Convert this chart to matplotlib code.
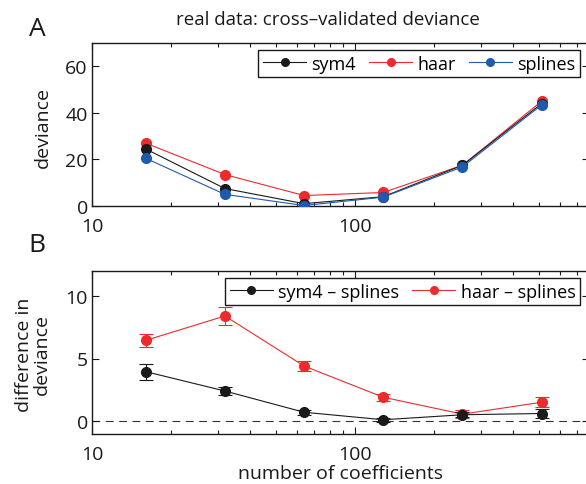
import matplotlib
matplotlib.use("Agg")
import matplotlib.pyplot as plt
from matplotlib.ticker import LogLocator, NullFormatter, FixedLocator, FixedFormatter
from matplotlib.lines import Line2D

plt.rcParams['font.family'] = ['Open Sans', 'DejaVu Sans']

n_coef = [16, 32, 64, 128, 256, 512]
sym4 = [24.5, 7.5, 1.0, 4.0, 17.5, 44.0]
haar = [27.0, 13.5, 4.5, 5.8, 17.5, 45.0]
splines = [20.5, 5.0, 0.2, 3.8, 16.8, 43.4]

sym4_diff = [3.95, 2.4, 0.7, 0.1, 0.5, 0.6]
sym4_err = [0.65, 0.35, 0.2, 0.15, 0.2, 0.35]
haar_diff = [6.45, 8.4, 4.4, 1.9, 0.55, 1.5]
haar_err = [0.5, 0.7, 0.4, 0.3, 0.3, 0.4]

BLACK = '#1a1a1a'
RED = '#ee2a2e'
BLUE = '#1f5aad'
FS = 14
LFS = 13

W, H = 586, 485
fig = plt.figure(figsize=(W/100, H/100), dpi=100)

def px_axes(l, t, r, b):
    return fig.add_axes([l/W, 1-b/H, (r-l)/W, (b-t)/H])

axA = px_axes(92, 44, 589, 207)
axB = px_axes(92, 272, 589, 434.5)

ms = 7
lw = 0.8
axA.plot(n_coef, sym4, '-o', color=BLACK, lw=lw, ms=ms, zorder=3)
axA.plot(n_coef, haar, '-o', color=RED, lw=lw, ms=ms, zorder=2)
axA.plot(n_coef, splines, '-o', color=BLUE, lw=lw, ms=ms, zorder=4)

axB.axhline(0, color='#333333', lw=0.8, ls=(0, (7, 5)), zorder=1)
axB.errorbar(n_coef, sym4_diff, yerr=sym4_err, fmt='-o', color=BLACK, lw=lw,
             ms=ms, capsize=5, elinewidth=0.8, capthick=0.8, zorder=3)
axB.errorbar(n_coef, haar_diff, yerr=haar_err, fmt='-o', color=RED, lw=lw,
             ms=ms, capsize=5, elinewidth=0.8, capthick=0.8, zorder=2)

lms = 5.5
handlesA = [Line2D([], [], color=c, lw=lw, marker='o', ms=lms) for c in (BLACK, RED, BLUE)]
labelsA = ['sym4', 'haar', 'splines']
handlesB = [Line2D([], [], color=c, lw=lw, marker='o', ms=lms) for c in (BLACK, RED)]
labelsB = ['sym4 – splines', 'haar – splines']

for ax in (axA, axB):
    ax.set_xscale('log')
    ax.set_xlim(10, 775)
    ax.xaxis.set_major_locator(FixedLocator([10, 100]))
    ax.xaxis.set_major_formatter(FixedFormatter(['10', '100']))
    ax.xaxis.set_minor_locator(LogLocator(base=10, subs=range(2, 10)))
    ax.xaxis.set_minor_formatter(NullFormatter())
    ax.tick_params(which='both', direction='in', top=True, right=True,
                   labelsize=FS, colors=BLACK, width=0.8)
    ax.tick_params(which='major', length=5)
    ax.tick_params(axis='x', which='major', pad=8)
    ax.tick_params(axis='y', which='major', pad=3)
    ax.tick_params(which='minor', length=3)
    for s in ax.spines.values():
        s.set_linewidth(1.0)
        s.set_color(BLACK)

axA.set_ylim(0, 70)
axA.set_yticks([0, 20, 40, 60])
axB.set_ylim(-1, 12)
axB.set_yticks([0, 5, 10])

axB.set_xlabel('number of coefficients', fontsize=FS, color=BLACK, labelpad=1)

fig.text(43/W, 1-128/H, 'deviance', fontsize=FS, rotation=90,
         ha='center', va='center', color=BLACK)
fig.text(33/W, 1-355/H, 'difference in\ndeviance', fontsize=FS, rotation=90,
         ha='center', va='center', color=BLACK, linespacing=1.05, multialignment='center')

fig.text(328/W, 1-20/H, 'real data: cross–validated deviance', fontsize=13.5,
         ha='center', va='center', color=BLACK)
fig.text(37/W, 1-30/H, 'A', fontsize=19, ha='center', va='center', color=BLACK)
fig.text(37/W, 1-246/H, 'B', fontsize=19, ha='center', va='center', color=BLACK)

common = dict(ncol=3, fontsize=LFS, frameon=True, fancybox=False,
              edgecolor=BLACK, handlelength=2.4, handletextpad=0.3,
              columnspacing=0.7, borderpad=0.25, borderaxespad=0.0,
              bbox_transform=fig.transFigure, loc='upper right')
legA = axA.legend(handlesA, labelsA, bbox_to_anchor=(580/W, 1-51/H), **common)
legB = axB.legend(handlesB, labelsB, bbox_to_anchor=(580/W, 1-279/H), **common)
for leg in (legA, legB):
    leg.get_frame().set_linewidth(1.0)
    leg.get_frame().set_alpha(1)

fig.savefig('out.png', dpi=100)
